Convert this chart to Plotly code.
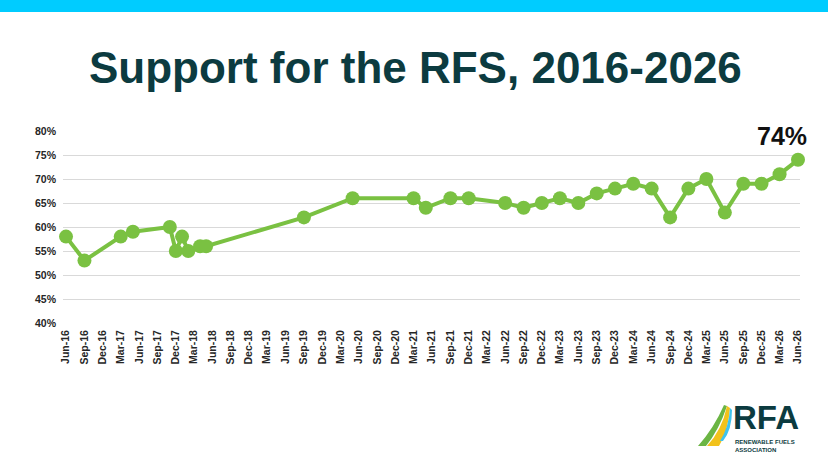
import plotly.graph_objects as go

# ---- data ----
survey_dates = ["2016-06-01", "2016-09-01", "2017-03-01", "2017-05-01", "2017-11-01",
                "2017-12-01", "2018-01-01", "2018-02-01", "2018-04-01", "2018-05-01",
                "2019-09-01", "2020-05-01", "2021-03-01", "2021-05-01", "2021-09-01",
                "2021-12-01", "2022-06-01", "2022-09-01", "2022-12-01", "2023-03-01",
                "2023-06-01", "2023-09-01", "2023-12-01", "2024-03-01", "2024-06-01",
                "2024-09-01", "2024-12-01", "2025-03-01", "2025-06-01", "2025-09-01",
                "2025-12-01", "2026-03-01", "2026-06-01"]
support_pct = [58, 53, 58, 59, 60, 55, 58, 55, 56, 56, 62, 66, 66, 64, 66, 66, 65, 64,
               65, 66, 65, 67, 68, 69, 68, 62, 68, 70, 63, 69, 69, 71, 74]
title_text = "Support for the RFS, 2016-2026"
last_label = "74%"

W, H = 828, 466
L, R, T, B = 63, 28, 131, 143
PW, PH = W - L - R, H - T - B


def px(x):
    return (x - L) / PW


def py(y):
    return (H - B - y) / PH


def path(points):
    s = ""
    for p in points:
        if p[0] == "Z":
            s += " Z"
        elif p[0] == "Q":
            s += f" Q {px(p[1])},{py(p[2])} {px(p[3])},{py(p[4])}"
        else:
            s += f" {p[0]} {px(p[1])},{py(p[2])}"
    return s.strip()


GREEN = "#7AC142"
TEAL = "#0C3B40"
TICK = "#262626"
FONT = "Arial, Liberation Sans"

fig = go.Figure()
fig.add_trace(go.Scatter(
    x=survey_dates, y=support_pct, mode="lines+markers",
    line=dict(color=GREEN, width=4),
    marker=dict(color=GREEN, size=14),
    cliponaxis=False,
    hoverinfo="x+y", showlegend=False,
))

shapes = [
    dict(type="rect", xref="paper", yref="paper", x0=px(0), x1=px(W), y0=py(0), y1=py(12),
         fillcolor="#00CCFF", line=dict(width=0), layer="below"),
    # logo swoosh
    dict(type="path", xref="paper", yref="paper",
         path=path([("M", 698, 446), ("Q", 714, 428, 724, 405), ("L", 727, 406),
                    ("Q", 719, 430, 706, 446), ("Z",)]),
         fillcolor="#6BB544", line=dict(width=0)),
    dict(type="path", xref="paper", yref="paper",
         path=path([("M", 707, 446), ("Q", 722, 430, 727, 406), ("L", 730, 408),
                    ("Q", 728, 432, 719, 446), ("Z",)]),
         fillcolor="#F2C21B", line=dict(width=0)),
    dict(type="path", xref="paper", yref="paper",
         path=path([("M", 720, 441), ("Q", 729, 427, 730, 408), ("L", 732, 410),
                    ("Q", 732, 430, 723, 441), ("Z",)]),
         fillcolor="#3FC3EE", line=dict(width=0)),
]

annotations = [
    dict(text=f"<b>{title_text}</b>", xref="paper", yref="paper", x=px(415), y=py(67),
         xanchor="center", yanchor="middle", showarrow=False,
         font=dict(family=FONT, size=44, color=TEAL)),
    dict(text=f"<b>{last_label}</b>", x=survey_dates[-1], y=support_pct[-1],
         xref="x", yref="y", xshift=-16, yshift=24, showarrow=False,
         xanchor="center", yanchor="middle",
         font=dict(family=FONT, size=25, color="#111111")),
    dict(text="<b>RFA</b>", xref="paper", yref="paper", x=px(731), y=py(417),
         xanchor="left", yanchor="middle", showarrow=False,
         font=dict(family=FONT, size=33, color=TEAL)),
    dict(text="<b>RENEWABLE FUELS<br>ASSOCIATION</b>", xref="paper", yref="paper",
         x=px(733), y=py(446), xanchor="left", yanchor="middle", align="left",
         showarrow=False,
         font=dict(family=FONT, size=6, color=TEAL)),
]

fig.update_layout(
    width=W, height=H,
    margin=dict(l=L, r=R, t=T, b=B),
    paper_bgcolor="white", plot_bgcolor="white",
    shapes=shapes, annotations=annotations,
    xaxis=dict(
        type="date", range=["2016-05-17", "2026-06-11"],
        tick0="2016-06-01", dtick="M3", tickformat="%b-%y",
        tickangle=-90, showgrid=False, zeroline=False,
        showline=False, ticks="", ticklabelstandoff=4,
        tickfont=dict(family=FONT, size=10.5, color=TICK, weight="bold"),
    ),
    yaxis=dict(
        range=[40, 80], dtick=5, ticksuffix="%",
        showgrid=True, gridcolor="#D9D9D9", gridwidth=1, zeroline=False,
        ticks="", ticklabelstandoff=6,
        tickfont=dict(family=FONT, size=10.5, color=TICK, weight="bold"),
    ),
)

fig.write_html("out.html")
